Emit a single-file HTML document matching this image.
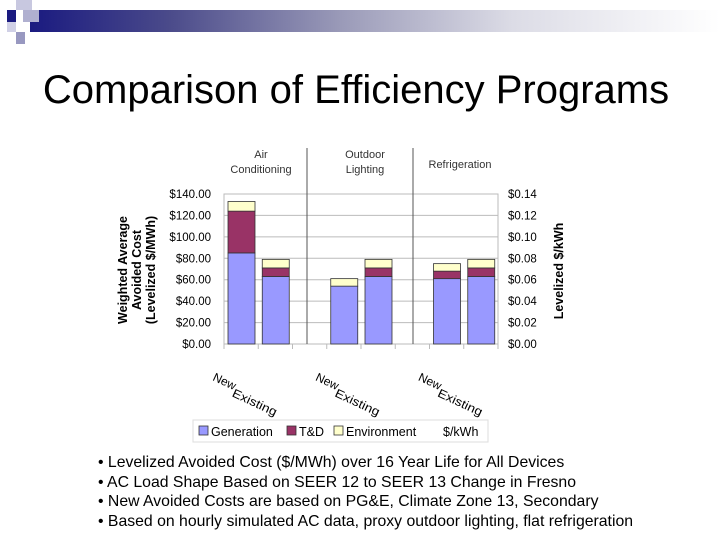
<!DOCTYPE html>
<html><head><meta charset="utf-8"><style>
body{margin:0;width:720px;height:540px;background:#fff;overflow:hidden;font-family:"Liberation Sans",sans-serif;position:relative}
.abs{position:absolute}
</style></head><body>
<div class="abs" style="left:30px;top:10px;width:690px;height:22px;background:linear-gradient(90deg,#1a1a80 0%,#4a4a8a 20%,#9a9ab8 45%,#dcdce6 70%,#fff 100%)"></div>
<div class="abs" style="left:7px;top:10px;width:9px;height:12px;background:#1a1a80"></div>
<div class="abs" style="left:16px;top:0;width:16px;height:10px;background:#c8c8e0"></div>
<div class="abs" style="left:23px;top:10px;width:16px;height:12px;background:#b0b0d0"></div>
<div class="abs" style="left:7px;top:22px;width:9px;height:10px;background:#d0d0e6"></div>
<div class="abs" style="left:16px;top:32px;width:9px;height:12px;background:#9898c0"></div>
<div class="abs" style="left:0;width:712px;top:68px;text-align:center;font-size:40px;color:#000;white-space:nowrap">Comparison of Efficiency Programs</div>
<svg class="abs" style="left:0;top:0" width="720" height="540">
<g id="g"></g>
</svg>
<div class="abs" style="left:98px;top:453px;font-size:15.8px;line-height:19.5px;color:#000;white-space:nowrap">
<div>• Levelized Avoided Cost ($/MWh) over 16 Year Life for All Devices</div>
<div>• AC Load Shape Based on SEER 12 to SEER 13 Change in Fresno</div>
<div>• New Avoided Costs are based on PG&amp;E, Climate Zone 13, Secondary</div>
<div>• Based on hourly simulated AC data, proxy outdoor lighting, flat refrigeration</div>
</div>
<script>
const slots=[0,1,3,4,6,7];
const catLabels=["New","Existing","New","Existing","New","Existing"];
const generation=[85,63,54,63,61,63];
const td=[39,8,0,8,7,8];
const environment=[9,8,7,8,7,8];
const leftTicks=["$0.00","$20.00","$40.00","$60.00","$80.00","$100.00","$120.00","$140.00"];
const rightTicks=["$0.00","$0.02","$0.04","$0.06","$0.08","$0.10","$0.12","$0.14"];
const groups=["Air|Conditioning","Outdoor|Lighting","Refrigeration"];
const NS="http://www.w3.org/2000/svg";
const g=document.getElementById('g');
const X0=224,X1=498,Y0=344,Y1=194,VMAX=140,SW=(X1-X0)/8;
const y=v=>Y0-(v/VMAX)*(Y0-Y1);
const sx=s=>X0+s*SW;
function mk(t,a,txt){const e=document.createElementNS(NS,t);for(const k in a)e.setAttribute(k,a[k]);if(txt!=null)e.textContent=txt;g.appendChild(e);return e;}
mk('rect',{x:X0,y:Y1,width:X1-X0,height:Y0-Y1,fill:'#fff',stroke:'#bbb'});
leftTicks.forEach((t,i)=>{const v=i*20;const yy=y(v);
 const l=mk('line',{x1:X0,x2:X1,y1:yy,y2:yy,stroke:'#bbb'});
 const a=mk('text',{x:X0-13,y:yy+4,'text-anchor':'end','font-size':11.5},t);
 const b=mk('text',{x:X1+10,y:yy+4,'font-size':11.5},rightTicks[i]);
});
for(let s=0;s<=8;s++){mk('line',{x1:sx(s),x2:sx(s),y1:Y0,y2:Y0+5,stroke:'#bbb'});}
[307,413].forEach(xx=>{const l=mk('line',{x1:xx,x2:xx,y1:148,y2:Y0,stroke:'#555'});});
const gx=[261,365,460];
groups.forEach((n,i)=>{const p=n.split('|');
 if(p.length==2){mk('text',{x:gx[i],y:158,'text-anchor':'middle','font-size':11,fill:'#333'},p[0]);mk('text',{x:gx[i],y:173,'text-anchor':'middle','font-size':11,fill:'#333'},p[1]);}
 else mk('text',{x:gx[i],y:168,'text-anchor':'middle','font-size':11,fill:'#333'},p[0]);
});
slots.forEach((s,i)=>{const bx=sx(s)+4,bw=27;
 const segs=[[0,generation[i],'#9999ff','bar-generation'],[generation[i],generation[i]+td[i],'#993366','bar-td'],[generation[i]+td[i],generation[i]+td[i]+environment[i],'#ffffcc','bar-environment']];
 segs.forEach(([a,b,c,n])=>{if(b<=a)return;const r=mk('rect',{x:bx,y:y(b),width:bw,height:y(a)-y(b),fill:c,stroke:'#333','stroke-width':0.8});
  });
 const isNew=i%2==0;const tx=isNew?sx(s)-12:sx(s)-27,ty=isNew?380:396;
 const t=mk('text',{x:tx,y:ty,'font-size':12,transform:`rotate(25 ${tx} ${ty})`},catLabels[i]);
 if(!isNew){t.setAttribute('textLength','48');t.setAttribute('lengthAdjust','spacingAndGlyphs');}
 
});
const yt=mk('text',{'font-size':12.5,'font-weight':'bold','text-anchor':'middle',transform:'translate(127,270) rotate(-90)'});

["Weighted Average","Avoided Cost","(Levelized $/MWh)"].forEach((s,i)=>{const ts=document.createElementNS(NS,'tspan');ts.setAttribute('x',0);ts.setAttribute('y',i*14);ts.textContent=s;yt.appendChild(ts);});
const rt=mk('text',{'font-size':12.5,'font-weight':'bold','text-anchor':'middle',transform:'translate(563,271) rotate(-90)'},'Levelized $/kWh');

const lg=mk('rect',{x:193,y:420,width:295,height:22,fill:'#fff',stroke:'#ddd'});
[[199,'#9999ff','Generation'],[287,'#993366','T&D'],[334,'#ffffcc','Environment']].forEach(([x,c,t])=>{
 const r=mk('rect',{x:x,y:426,width:9,height:9,fill:c,stroke:'#333','stroke-width':0.8});
 const e=mk('text',{x:x+12,y:436,'font-size':12.5},t);});
const k=mk('text',{x:443,y:436,'font-size':12.5},'$/kWh');
</script>
</body></html>
